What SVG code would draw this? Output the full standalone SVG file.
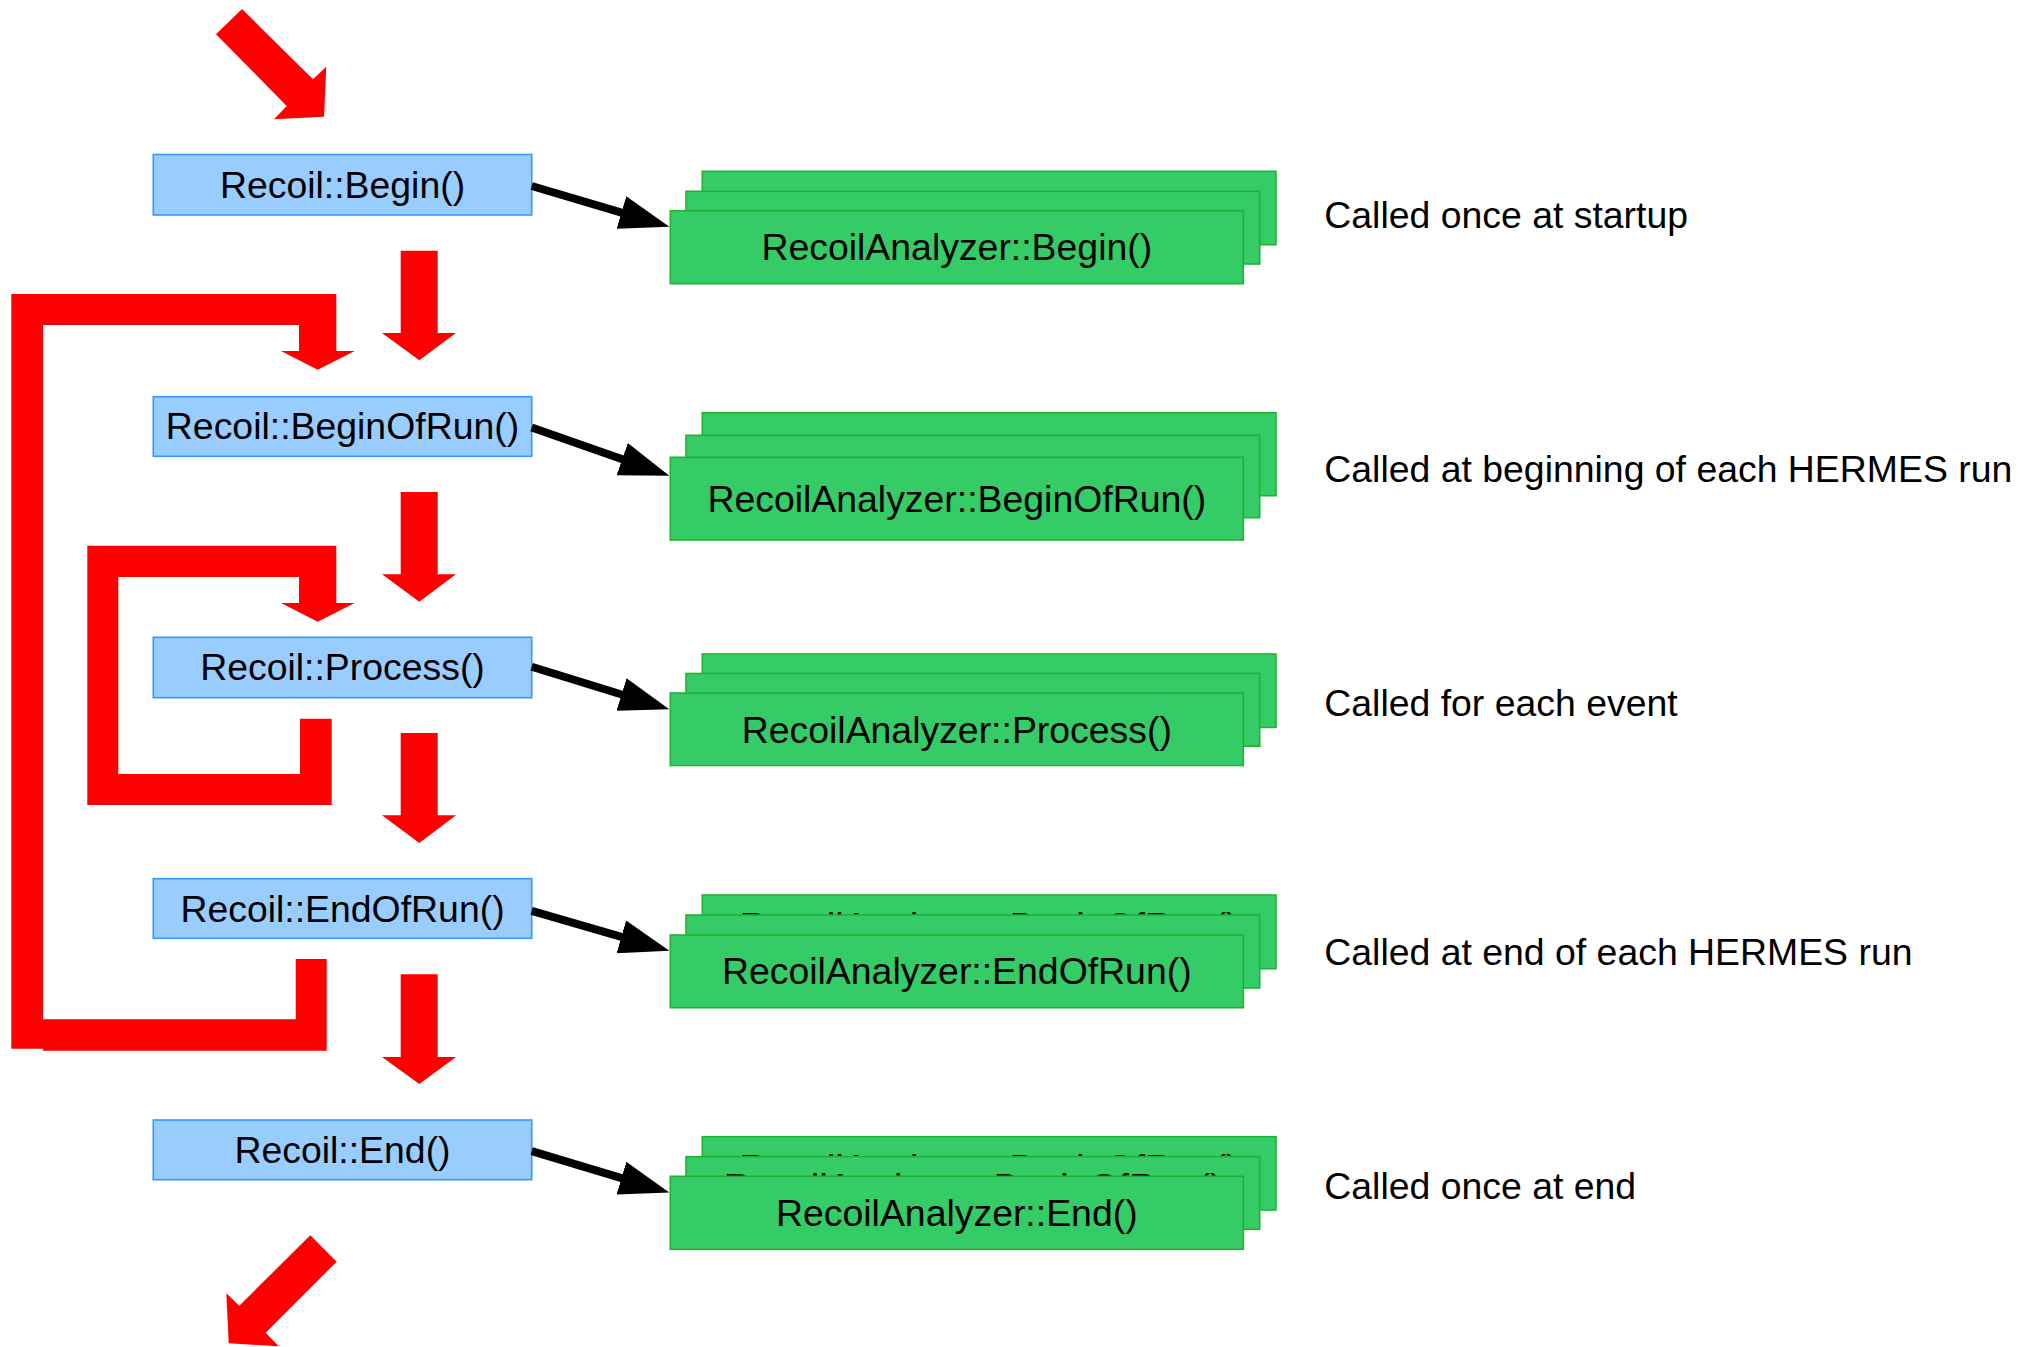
<svg xmlns="http://www.w3.org/2000/svg" width="2030" height="1347" viewBox="0 0 2030 1347">
  <style>
    text { font-family: "Liberation Sans", Arial, sans-serif; font-size: 37.4px; fill: #000; }
    .mid { text-anchor: middle; }
    .recoil { fill: #99ccff; stroke: #3399ff; stroke-width: 1.6; }
    .ana { fill: #35cb66; stroke: #1eb432; stroke-width: 1.6; }
    .flow { fill: #ff0000; stroke: none; }
    .call { stroke: #000; stroke-width: 8; fill: none; }
  </style>
  <defs>
    <marker id="head" markerUnits="userSpaceOnUse" markerWidth="52" markerHeight="34" refX="1" refY="17" orient="auto">
      <path d="M0,0 L50,17 L0,34 z" fill="#000"/>
    </marker>
  </defs>

  <rect width="2030" height="1347" fill="#ffffff"/>

  <!-- red flow arrows: entry, steps, loops, exit -->
  <g id="flow">
    <polygon class="flow" points="242,9 313,79.3 326.3,66.7 324,116.7 274,119.3 286.7,106 216,34.3"/>
    <polygon class="flow" points="400.7,250.7 437.7,250.7 437.7,333 456,333 419.3,360.3 382,333 400.7,333"/>
    <polygon class="flow" points="400.7,492 437.7,492 437.7,574.3 456,574.3 419.3,601.7 382,574.3 400.7,574.3"/>
    <polygon class="flow" points="400.7,733 437.7,733 437.7,815.3 456,815.3 419.3,843 382,815.3 400.7,815.3"/>
    <polygon class="flow" points="400.7,974.3 437.7,974.3 437.7,1057 456,1057 419.3,1084 382,1057 400.7,1057"/>
    <!-- run loop -->
    <polygon class="flow" points="11.3,294 336.3,294 336.3,351 354.7,351 317.7,369.7 281,351 299,351 299,325 43,325 43,1019.3 295.7,1019.3 295.7,959 326.7,959 326.7,1050.7 43,1050.7 43,1048.7 11.3,1048.7"/>
    <!-- event loop -->
    <polygon class="flow" points="87.3,545.7 336.3,545.7 336.3,603 354.7,603 317.7,621.7 281,603 299,603 299,577 118.3,577 118.3,774 300,774 300,718.7 331.7,718.7 331.7,805 87.3,805"/>
    <polygon class="flow" points="310.3,1235.3 336.7,1261.7 265.7,1332.7 278.7,1346.3 228.7,1343.3 226.3,1293.3 239.3,1305.7"/>
  </g>

  <!-- Recoil steps -->
  <g id="recoil-begin">
    <rect class="recoil" x="153.3" y="154.5" width="378.4" height="60.5"/>
    <text class="mid" x="342.5" y="198.3">Recoil::Begin()</text>
  </g>
  <g id="recoil-beginofrun">
    <rect class="recoil" x="153.3" y="396.7" width="378.4" height="59.6"/>
    <text class="mid" x="342.5" y="438.5">Recoil::BeginOfRun()</text>
  </g>
  <g id="recoil-process">
    <rect class="recoil" x="153.3" y="637.3" width="378.4" height="60.4"/>
    <text class="mid" x="342.5" y="680.2">Recoil::Process()</text>
  </g>
  <g id="recoil-endofrun">
    <rect class="recoil" x="153.3" y="878.7" width="378.4" height="59.6"/>
    <text class="mid" x="342.5" y="921.7">Recoil::EndOfRun()</text>
  </g>
  <g id="recoil-end">
    <rect class="recoil" x="153.3" y="1120" width="378.4" height="59.7"/>
    <text class="mid" x="342.5" y="1162.7">Recoil::End()</text>
  </g>

  <!-- analyzer stacks (several analyzers per step, drawn as layered cards) -->
  <g id="analyzer-begin">
    <rect class="ana" x="702.3" y="171.3" width="573.7" height="73.4"/>
    <rect class="ana" x="686" y="191.3" width="573.7" height="72.7"/>
    <rect class="ana" x="670.3" y="210.7" width="573" height="73"/>
    <text class="mid" x="956.8" y="260">RecoilAnalyzer::Begin()</text>
  </g>
  <g id="analyzer-beginofrun">
    <rect class="ana" x="702.3" y="412.7" width="573.7" height="83"/>
    <rect class="ana" x="686" y="435.3" width="573.7" height="82.4"/>
    <rect class="ana" x="670.3" y="457.3" width="573" height="82.7"/>
    <text class="mid" x="956.8" y="511.7">RecoilAnalyzer::BeginOfRun()</text>
  </g>
  <g id="analyzer-process">
    <rect class="ana" x="702.3" y="654" width="573.7" height="73.4"/>
    <rect class="ana" x="686" y="673.5" width="573.7" height="72.7"/>
    <rect class="ana" x="670.3" y="693" width="573" height="72.5"/>
    <text class="mid" x="956.8" y="742.5">RecoilAnalyzer::Process()</text>
  </g>
  <g id="analyzer-endofrun">
    <rect class="ana" x="702.3" y="895" width="573.7" height="73.7"/>
    <text class="mid" x="989" y="938.6">RecoilAnalyzer::BeginOfRun()</text>
    <rect class="ana" x="686" y="915" width="573.7" height="73"/>
    <rect class="ana" x="670.3" y="935" width="573" height="72.7"/>
    <text class="mid" x="956.8" y="984.3">RecoilAnalyzer::EndOfRun()</text>
  </g>
  <g id="analyzer-end">
    <rect class="ana" x="702.3" y="1136.7" width="573.7" height="73.3"/>
    <text class="mid" x="989" y="1181">RecoilAnalyzer::BeginOfRun()</text>
    <rect class="ana" x="686" y="1156.7" width="573.7" height="72.6"/>
    <text class="mid" x="973" y="1200">RecoilAnalyzer::BeginOfRun()</text>
    <rect class="ana" x="670.3" y="1176.3" width="573" height="73"/>
    <text class="mid" x="956.8" y="1225.8">RecoilAnalyzer::End()</text>
  </g>

  <!-- call connectors -->
  <g id="calls">
    <line class="call" x1="531.7" y1="186" x2="622.4" y2="212.8" marker-end="url(#head)"/>
    <line class="call" x1="531.7" y1="427.5" x2="623.1" y2="459.5" marker-end="url(#head)"/>
    <line class="call" x1="531.7" y1="666.7" x2="622.5" y2="694.7" marker-end="url(#head)"/>
    <line class="call" x1="531.7" y1="910.8" x2="622.3" y2="937.1" marker-end="url(#head)"/>
    <line class="call" x1="531.7" y1="1151.2" x2="622.4" y2="1178.4" marker-end="url(#head)"/>
  </g>

  <!-- descriptions -->
  <g id="notes">
    <text x="1324.3" y="227.7">Called once at startup</text>
    <text x="1324.3" y="481.7">Called at beginning of each HERMES run</text>
    <text x="1324.3" y="716">Called for each event</text>
    <text x="1324.3" y="964.5">Called at end of each HERMES run</text>
    <text x="1324.3" y="1198.8">Called once at end</text>
  </g>
</svg>
